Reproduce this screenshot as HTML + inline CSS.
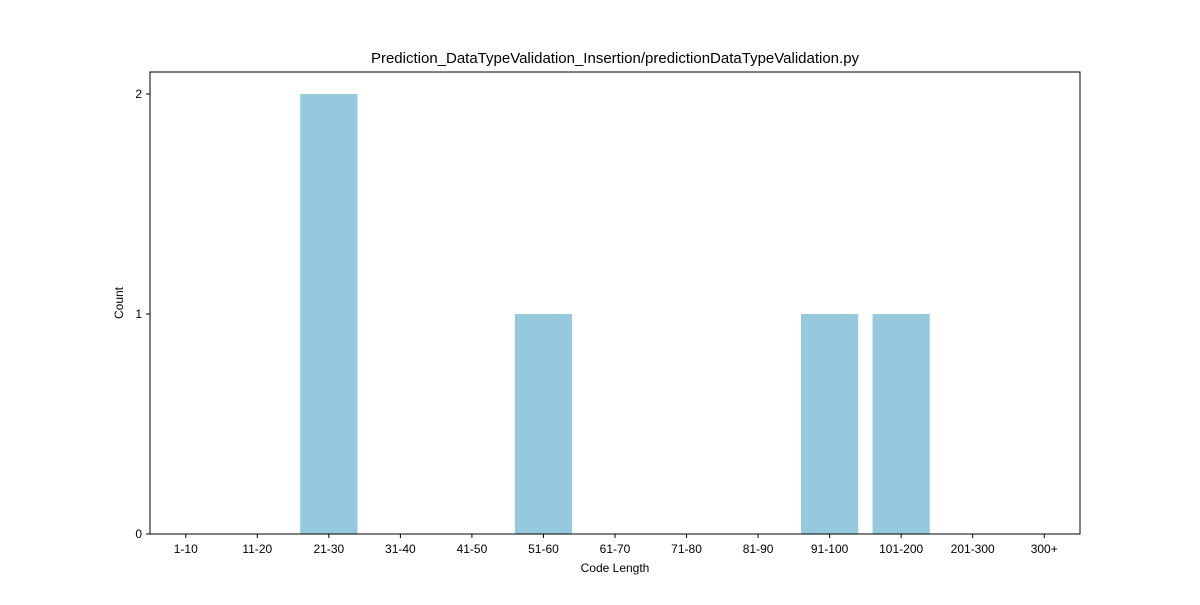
<!DOCTYPE html>
<html><head><meta charset="utf-8"><style>
body{margin:0;background:#fff;}
text{font-family:"Liberation Sans",sans-serif;fill:#000;}
</style></head><body>
<svg id="chart" width="1200" height="600" xmlns="http://www.w3.org/2000/svg">
<rect x="0" y="0" width="1200" height="600" fill="#fff"/>
<text x="615" y="63" font-size="15" text-anchor="middle">Prediction_DataTypeValidation_Insertion/predictionDataTypeValidation.py</text>
<g id="bars"></g>
<g id="axes"></g>
<rect x="150" y="72" width="930" height="462" fill="none" stroke="#000" stroke-width="1"/>
<text x="615" y="572" font-size="12" text-anchor="middle">Code Length</text>
<text x="123" y="303" font-size="12" text-anchor="middle" transform="rotate(-90 123 303)">Count</text>
</svg>
<script>
const categories=["1-10","11-20","21-30","31-40","41-50","51-60","61-70","71-80","81-90","91-100","101-200","201-300","300+"];
const counts=[0,0,2,0,0,1,0,0,0,1,1,0,0];
const yTicks=[0,1,2];
const NS="http://www.w3.org/2000/svg";
const L=150,R=1080,T=72,B=534,yMax=2.1;
const n=categories.length;
const xs=i=>L+(i+0.5)*(R-L)/n;
const ys=v=>B-(v/yMax)*(B-T);
const bw=0.8*(R-L)/n;
const bars=document.getElementById('bars'),axes=document.getElementById('axes');
function mk(t,a,p){const e=document.createElementNS(NS,t);for(const k in a)e.setAttribute(k,a[k]);p.appendChild(e);return e;}
counts.forEach((v,i)=>{
 const r=mk('rect',{x:xs(i)-bw/2,y:ys(v),width:bw,height:B-ys(v),fill:'#96c9dd'},bars);
 
 
});
categories.forEach((c,i)=>{
 const l=mk('line',{x1:xs(i),x2:xs(i),y1:B,y2:B+4,stroke:'#000'},axes);
 
 
 const t=mk('text',{x:xs(i),y:B+19,'font-size':12,'text-anchor':'middle'},axes);
 t.textContent=c;
 
 
});
yTicks.forEach(v=>{
 const l=mk('line',{x1:L-4,x2:L,y1:ys(v),y2:ys(v),stroke:'#000'},axes);
 
 
 const t=mk('text',{x:L-8,y:ys(v)+4,'font-size':12,'text-anchor':'end'},axes);
 t.textContent=v;
 
 
});
</script>
</body></html>
